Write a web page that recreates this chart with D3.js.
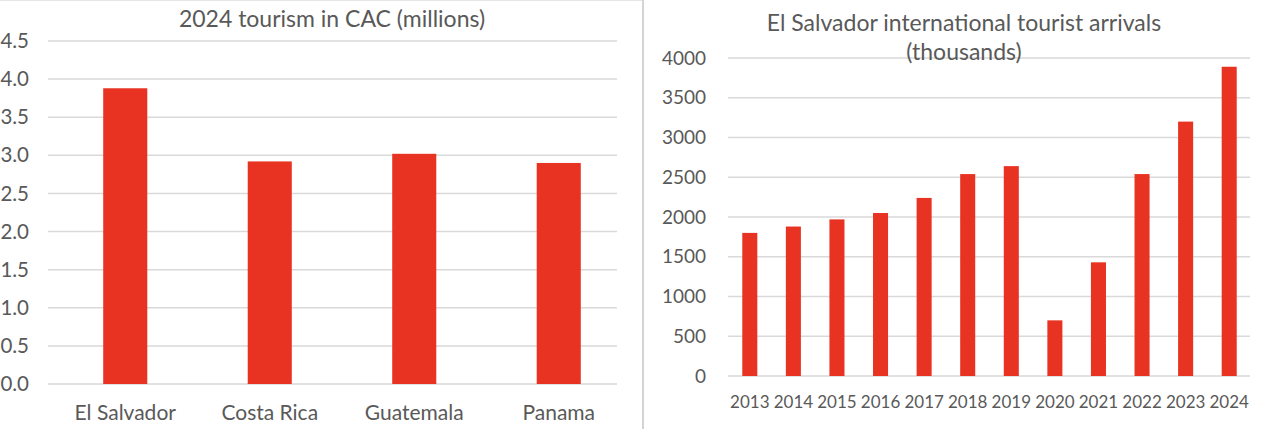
<!DOCTYPE html>
<html><head><meta charset="utf-8">
<script src="https://cdn.jsdelivr.net/npm/d3@7"></script>
<style>
html,body{margin:0;padding:0;background:#fff;}
svg{display:block;font-family:Lato,"Open Sans",sans-serif;}
</style></head>
<body>
<svg id="c" width="1280" height="429"></svg>
<script>
// Left chart data
const cacCountries = ["El Salvador", "Costa Rica", "Guatemala", "Panama"];
const cacTourists = [3.88, 2.92, 3.02, 2.9];
const cacTicks = [0, 0.5, 1, 1.5, 2, 2.5, 3, 3.5, 4, 4.5];
const leftTitle = "2024 tourism in CAC (millions)";

// Right chart data
const years = ["2013","2014","2015","2016","2017","2018","2019","2020","2021","2022","2023","2024"];
const arrivals = [1800, 1880, 1970, 2050, 2240, 2540, 2640, 700, 1430, 2540, 3200, 3890];
const arrTicks = [0, 500, 1000, 1500, 2000, 2500, 3000, 3500, 4000];
const rightTitle = ["El Salvador international tourist arrivals", "(thousands)"];

const RED = "#e83323", GRID = "#d9d9d9", TXT = "#595959";
const svg = d3.select("#c");

// panel edges
svg.append("rect").attr("x", 0).attr("y", 0).attr("width", 642).attr("height", 1).attr("fill", "#e6e6e6");
svg.append("rect").attr("x", 642).attr("y", 0).attr("width", 2).attr("height", 429).attr("fill", "#d4d4d4");

// ---------- Left chart ----------
{
  const x = d3.scaleBand().domain(cacCountries).range([53, 631]).paddingInner(0.695).paddingOuter(0.3475);
  const y = d3.scaleLinear().domain([0, 4.5]).range([384, 41]);
  const g = svg.append("g");
  g.append("g").selectAll("line").data(cacTicks).join("line")
    .attr("x1", 48).attr("x2", 617)
    .attr("y1", d => y(d)).attr("y2", d => y(d))
    .attr("stroke", GRID).attr("stroke-width", 1.5);
  const ya = g.append("g").attr("transform", "translate(29,0)")
    .call(d3.axisLeft(y).tickValues(cacTicks).tickFormat(d3.format(".1f")).tickSize(0).tickPadding(0));
  ya.select(".domain").remove();
  ya.selectAll("text").attr("fill", TXT).style("font-size", "20.5px").style("font-family", "Lato");
  g.append("g").selectAll("rect").data(cacCountries).join("rect")
    .attr("x", d => x(d)).attr("width", x.bandwidth())
    .attr("y", (d, i) => y(cacTourists[i]))
    .attr("height", (d, i) => y(0) - y(cacTourists[i]))
    .attr("fill", RED);
  const xa = g.append("g").attr("transform", "translate(0,405)")
    .call(d3.axisBottom(x).tickSize(0).tickPadding(0));
  xa.select(".domain").remove();
  xa.selectAll("text").attr("fill", TXT).style("font-size", "21px").style("font-family", "Lato");
  g.append("text").attr("x", 332).attr("y", 27).attr("text-anchor", "middle")
    .attr("fill", TXT).style("font-size", "23px").text(leftTitle);
}

// ---------- Right chart ----------
{
  const x = d3.scaleBand().domain(years).range([728, 1251]).paddingInner(0.655).paddingOuter(0.3275);
  const y = d3.scaleLinear().domain([0, 4000]).range([376, 58]);
  const g = svg.append("g");
  g.append("g").selectAll("line").data(arrTicks).join("line")
    .attr("x1", 728).attr("x2", 1250)
    .attr("y1", d => y(d)).attr("y2", d => y(d))
    .attr("stroke", GRID).attr("stroke-width", 1.5);
  const ya = g.append("g").attr("transform", "translate(706,0)")
    .call(d3.axisLeft(y).tickValues(arrTicks).tickFormat(d3.format("d")).tickSize(0).tickPadding(0));
  ya.select(".domain").remove();
  ya.selectAll("text").attr("fill", TXT).style("font-size", "19px").style("font-family", "Lato");
  g.append("g").selectAll("rect").data(years).join("rect")
    .attr("x", d => x(d)).attr("width", x.bandwidth())
    .attr("y", (d, i) => y(arrivals[i]))
    .attr("height", (d, i) => y(0) - y(arrivals[i]))
    .attr("fill", RED);
  const xa = g.append("g").attr("transform", "translate(0,396)")
    .call(d3.axisBottom(x).tickSize(0).tickPadding(0));
  xa.select(".domain").remove();
  xa.selectAll("text").attr("fill", TXT).style("font-size", "17px").style("font-family", "Lato");
  g.append("g").selectAll("text").data(rightTitle).join("text")
    .attr("x", 964).attr("y", (d, i) => 31 + i * 29).attr("text-anchor", "middle")
    .attr("fill", TXT).style("font-size", "23px").text(d => d);
}
</script>
</body></html>
